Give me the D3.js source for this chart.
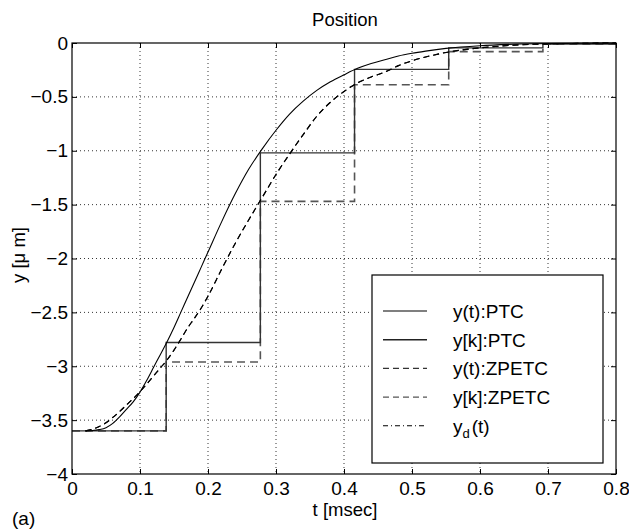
<!DOCTYPE html>
<html>
<head>
<meta charset="utf-8">
<script src="https://cdn.jsdelivr.net/npm/d3@7"></script>
<style>
  html, body { margin: 0; padding: 0; background: #fff; overflow: hidden; }
  svg { display: block; }
  text { font-family: 'Liberation Sans', Arial, sans-serif; }
</style>
</head>
<body>
<svg id="chart"></svg>
<script>
// continuous-time responses (t in msec, y in um)
const tCurve = [0.02, 0.03, 0.04, 0.05, 0.06, 0.07, 0.08, 0.09, 0.10, 0.11, 0.12, 0.13, 0.14, 0.15, 0.16, 0.17, 0.18, 0.19, 0.20,
  0.22, 0.24, 0.26, 0.28, 0.30, 0.32, 0.34, 0.36, 0.38, 0.40, 0.42, 0.44, 0.46, 0.48, 0.50, 0.52, 0.55, 0.60, 0.65, 0.70, 0.75, 0.80];
const yPTC = [-3.600, -3.597, -3.588, -3.570, -3.530, -3.470, -3.400, -3.330, -3.240, -3.130, -3.010, -2.890, -2.770, -2.640, -2.500, -2.360, -2.220, -2.080, -1.940,
  -1.660, -1.400, -1.170, -0.980, -0.810, -0.660, -0.540, -0.440, -0.360, -0.295, -0.235, -0.190, -0.155, -0.120, -0.095, -0.075, -0.050, -0.025, -0.012, -0.005, -0.002, 0];
const yZPETC = [-3.600, -3.585, -3.560, -3.525, -3.475, -3.420, -3.360, -3.300, -3.235, -3.165, -3.090, -3.015, -2.940, -2.850, -2.750, -2.645, -2.555, -2.460, -2.350,
  -2.100, -1.860, -1.640, -1.430, -1.220, -1.030, -0.850, -0.680, -0.550, -0.450, -0.370, -0.315, -0.270, -0.210, -0.165, -0.130, -0.088, -0.045, -0.020, -0.008, -0.003, 0];
const yDesired = [-3.600, -3.585, -3.560, -3.525, -3.475, -3.420, -3.360, -3.300, -3.235, -3.165, -3.090, -3.015, -2.940, -2.850, -2.750, -2.645, -2.555, -2.460, -2.350,
  -2.100, -1.860, -1.640, -1.430, -1.220, -1.030, -0.850, -0.680, -0.550, -0.450, -0.370, -0.315, -0.270, -0.210, -0.165, -0.130, -0.088, -0.045, -0.020, -0.008, -0.003, 0];

// sampled outputs (held between samples), last entry closes the axis
const tSample = [0, 0.1385, 0.277, 0.4155, 0.554, 0.6925, 0.8];
const ykPTC = [-3.60, -2.78, -1.02, -0.245, -0.045, -0.010, -0.010];
const ykZPETC = [-3.60, -2.96, -1.47, -0.387, -0.080, -0.012, -0.012];

const xTicks = [0, 0.1, 0.2, 0.3, 0.4, 0.5, 0.6, 0.7, 0.8];
const yTicks = [-4, -3.5, -3, -2.5, -2, -1.5, -1, -0.5, 0];
const legendLabels = ['y(t):PTC', 'y[k]:PTC', 'y(t):ZPETC', 'y[k]:ZPETC', 'yd'];

const width = 629;
const height = 530;
const margin = { top: 43, right: 13, bottom: 56, left: 72 };
const innerWidth = width - margin.left - margin.right;
const innerHeight = height - margin.top - margin.bottom;

const svg = d3.select('#chart')
  .attr('width', width)
  .attr('height', height);

const g = svg.append('g')
  .attr('transform', `translate(${margin.left}, ${margin.top})`);

const xScale = d3.scaleLinear().domain([0, 0.8]).range([0, innerWidth]);
const yScale = d3.scaleLinear().domain([-4, 0]).range([innerHeight, 0]);

const fmt = v => (v < 0 ? '\u2212' : '') + Math.abs(v);

// dotted grid
g.selectAll('.xgrid')
  .data(xTicks.slice(1, -1))
  .join('line')
  .attr('x1', d => xScale(d)).attr('x2', d => xScale(d))
  .attr('y1', 0).attr('y2', innerHeight)
  .attr('stroke', '#000').attr('stroke-width', 0.8)
  .attr('stroke-dasharray', '1,3');

g.selectAll('.ygrid')
  .data(yTicks.slice(1, -1))
  .join('line')
  .attr('y1', d => yScale(d)).attr('y2', d => yScale(d))
  .attr('x1', 0).attr('x2', innerWidth)
  .attr('stroke', '#000').attr('stroke-width', 0.8)
  .attr('stroke-dasharray', '1,3');

// axes with inward ticks on all four sides
g.append('g')
  .attr('transform', `translate(0, ${innerHeight})`)
  .call(d3.axisBottom(xScale).tickValues(xTicks).tickFormat(fmt).tickSizeInner(-5).tickSizeOuter(0).tickPadding(8))
  .call(a => a.select('.domain').remove())
  .attr('font-size', 19);

g.append('g')
  .call(d3.axisTop(xScale).tickValues(xTicks).tickFormat('').tickSizeInner(-5).tickSizeOuter(0))
  .call(a => a.select('.domain').remove());

g.append('g')
  .call(d3.axisLeft(yScale).tickValues(yTicks).tickFormat(fmt).tickSizeInner(-5).tickSizeOuter(0).tickPadding(4))
  .call(a => a.select('.domain').remove())
  .attr('font-size', 19);

g.append('g')
  .attr('transform', `translate(${innerWidth}, 0)`)
  .call(d3.axisRight(yScale).tickValues(yTicks).tickFormat('').tickSizeInner(-5).tickSizeOuter(0))
  .call(a => a.select('.domain').remove());

g.selectAll('.tick text').attr('fill', '#000').attr('font-family', "'Liberation Sans', Arial, sans-serif");

// step (zero-order hold) lines
const stepLine = d3.line()
  .x(d => xScale(d[0]))
  .y(d => yScale(d[1]))
  .curve(d3.curveStepAfter);

g.append('path')
  .attr('d', stepLine(d3.zip(tSample, ykZPETC)))
  .attr('fill', 'none')
  .attr('stroke', '#555')
  .attr('stroke-width', 1.6)
  .attr('stroke-dasharray', '8,5');

g.append('path')
  .attr('d', stepLine(d3.zip(tSample, ykPTC)))
  .attr('fill', 'none')
  .attr('stroke', '#333')
  .attr('stroke-width', 1.4);

// continuous curves
const curveLine = d3.line()
  .x(d => xScale(d[0]))
  .y(d => yScale(d[1]))
  .curve(d3.curveMonotoneX);

g.append('path')
  .attr('d', curveLine(d3.zip(tCurve, yDesired)))
  .attr('fill', 'none')
  .attr('stroke', '#000')
  .attr('stroke-width', 1.1)
  .attr('stroke-dasharray', '6,4');

g.append('path')
  .attr('d', curveLine(d3.zip(tCurve, yZPETC)))
  .attr('fill', 'none')
  .attr('stroke', '#000')
  .attr('stroke-width', 1.1)
  .attr('stroke-dasharray', '6,4');

g.append('path')
  .attr('d', curveLine(d3.zip(tCurve, yPTC)))
  .attr('fill', 'none')
  .attr('stroke', '#000')
  .attr('stroke-width', 1.1);

// plot box
g.append('rect')
  .attr('width', innerWidth)
  .attr('height', innerHeight)
  .attr('fill', 'none')
  .attr('stroke', '#000')
  .attr('stroke-width', 1.2);

// legend
const legendStyles = [
  { stroke: '#000', dash: null, w: 1.1 },
  { stroke: '#222', dash: null, w: 1.5 },
  { stroke: '#333', dash: '6,4', w: 1.3 },
  { stroke: '#555', dash: '6,4', w: 1.4 },
  { stroke: '#000', dash: '5,3,1,3', w: 1.1 }
];

const legend = svg.append('g')
  .attr('transform', 'translate(372, 275)');

legend.append('rect')
  .attr('width', 231)
  .attr('height', 188)
  .attr('fill', '#fff')
  .attr('stroke', '#000')
  .attr('stroke-width', 1.2);

const items = legend.selectAll('.legend-item')
  .data(legendLabels)
  .join('g')
  .attr('transform', (d, i) => `translate(0, ${36 + i * 28.7})`);

items.append('line')
  .attr('x1', 11).attr('x2', 55)
  .attr('stroke', (d, i) => legendStyles[i].stroke)
  .attr('stroke-width', (d, i) => legendStyles[i].w)
  .attr('stroke-dasharray', (d, i) => legendStyles[i].dash);

items.append('text')
  .attr('x', 81)
  .attr('y', 7)
  .attr('font-size', 19)
  .each(function (d) {
    const t = d3.select(this);
    if (d === 'yd') {
      t.append('tspan').text('y');
      t.append('tspan').attr('font-size', 13).attr('dy', 5).text('d');
      t.append('tspan').attr('dy', -5).attr('dx', 2).text('(t)');
    } else {
      t.text(d);
    }
  });

// titles
svg.append('text')
  .attr('x', 345).attr('y', 26)
  .attr('text-anchor', 'middle')
  .attr('font-size', 18.5)
  .text('Position');

svg.append('text')
  .attr('x', 345).attr('y', 516)
  .attr('text-anchor', 'middle')
  .attr('font-size', 18.5)
  .text('t [msec]');

svg.append('text')
  .attr('transform', 'translate(25, 255) rotate(-90)')
  .attr('text-anchor', 'middle')
  .attr('font-size', 18.5)
  .text('y [\u03bc m]');

svg.append('text')
  .attr('x', 12).attr('y', 525)
  .attr('font-family', "'Liberation Serif', 'Times New Roman', serif")
  .attr('font-size', 19)
  .text('(a)');
</script>
</body>
</html>
